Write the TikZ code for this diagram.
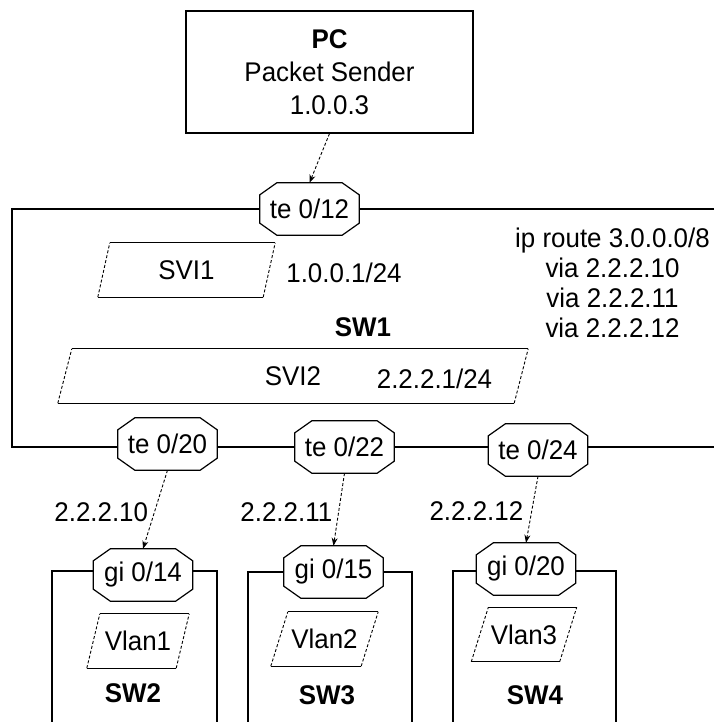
\documentclass[tikz,border=0pt]{standalone}
\usepackage{fontspec}
\setmainfont{Liberation Sans}[FakeStretch=0.96]
\usetikzlibrary{arrows.meta,backgrounds}

\begin{document}
\begin{tikzpicture}[x=1pt,y=-1pt,font=\fontsize{27}{33}\selectfont]
\tikzset{
  hostbox/.style={rectangle,draw=black,line width=1.2pt,minimum width=287pt,minimum height=122pt,align=center,inner sep=0pt},
  portnode/.style={rectangle,minimum width=99pt,minimum height=52pt,inner sep=0pt},
  portedge/.style={draw=black,fill=white,line width=1.2pt},
  ifnode/.style={rectangle,minimum height=54pt,inner sep=0pt},
  iptext/.style={inner sep=0pt},
  swlabel/.style={font=\fontsize{27}{33}\selectfont\bfseries,inner sep=0pt},
  swframe/.style={draw=black,line width=1.2pt},
  ifside/.style={draw=black,line width=0.9pt,dash pattern=on 3pt off 2pt},
  link/.style={draw=black,line width=0.9pt,dash pattern=on 3pt off 2pt,-{Stealth[length=8pt,width=6pt]}}
}
\useasboundingbox (0,0) rectangle (714,722);
% host
\node[hostbox] (pc) at (329.5,72) {\textbf{PC}\\Packet Sender\\1.0.0.3};
% ports
\node[portnode] (te12) at (309.5,209) {te 0/12};
\node[portnode] (te20) at (167.5,444) {te 0/20};
\node[portnode] (te22) at (344.5,447) {te 0/22};
\node[portnode] (te24) at (538,450) {te 0/24};
\node[portnode] (gi14) at (143,575) {gi 0/14};
\node[portnode] (gi15) at (333.5,572) {gi 0/15};
\node[portnode] (gi20) at (526,569) {gi 0/20};
\begin{scope}[on background layer]
% switch frames
\draw[swframe] (714,209) -- (12,209) -- (12,447) -- (714,447);
\draw[swframe] (52,722) -- (52,571) -- (217,571) -- (217,722);
\draw[swframe] (248,722) -- (248,572) -- (412,572) -- (412,722);
\draw[swframe] (453,722) -- (453,571) -- (616,571) -- (616,722);
% port outlines
\foreach \n in {te12,te20,te22,te24,gi14,gi15,gi20}{
  \draw[portedge] ([xshift=17pt]\n.north west) -- ([xshift=-17pt]\n.north east)
    -- ([yshift=-12pt]\n.north east) -- ([yshift=12pt]\n.south east)
    -- ([xshift=-17pt]\n.south east) -- ([xshift=17pt]\n.south west)
    -- ([yshift=12pt]\n.south west) -- ([yshift=-12pt]\n.north west) -- cycle;
}
\end{scope}
% interfaces
\node[ifnode,minimum width=165pt] (svi1) at (186.5,270) {SVI1};
\node[ifnode,minimum width=456pt] (svi2) at (293,376) {SVI2};
\node[ifnode,minimum width=89pt] (vl1) at (138,641) {Vlan1};
\node[ifnode,minimum width=90pt] (vl2) at (324.5,639) {Vlan2};
\node[ifnode,minimum width=88pt] (vl3) at (524,634.5) {Vlan3};
\foreach \n/\s in {svi1/6pt,svi2/7pt,vl1/6.5pt,vl2/8.5pt,vl3/8.5pt}{
  \draw[swframe] ([xshift=\s]\n.north west) -- ([xshift=\s]\n.north east)
    ([xshift=-\s]\n.south west) -- ([xshift=-\s]\n.south east);
  \draw[ifside] ([xshift=-\s]\n.south west) -- ([xshift=\s]\n.north west)
    ([xshift=-\s]\n.south east) -- ([xshift=\s]\n.north east);
}
% texts
\node[iptext] (svi1ip) at (344,273) {1.0.0.1/24};
\node[swlabel] (sw1) at (363,327) {SW1};
\node[iptext] (svi2ip) at (434.5,379) {2.2.2.1/24};
\node[iptext,align=center,font=\fontsize{27}{30}\selectfont] (route) at (612.5,283) {ip route 3.0.0.0/8\\via 2.2.2.10\\via 2.2.2.11\\via 2.2.2.12};
\node[swlabel] (sw2) at (133,693) {SW2};
\node[swlabel] (sw3) at (327,695) {SW3};
\node[swlabel] (sw4) at (535,695) {SW4};
% links
\draw[link] (pc.south) -- (te12.north);
\draw[link] (te20.south) -- node[iptext,pos=0.53,left=6pt] (gw10) {2.2.2.10} (gi14.north);
\draw[link] (te22.south) -- node[iptext,pos=0.53,left=6pt] (gw11) {2.2.2.11} (gi15.north);
\draw[link] (te24.south) -- node[iptext,pos=0.53,left=8pt] (gw12) {2.2.2.12} (gi20.north);
\end{tikzpicture}
\end{document}
